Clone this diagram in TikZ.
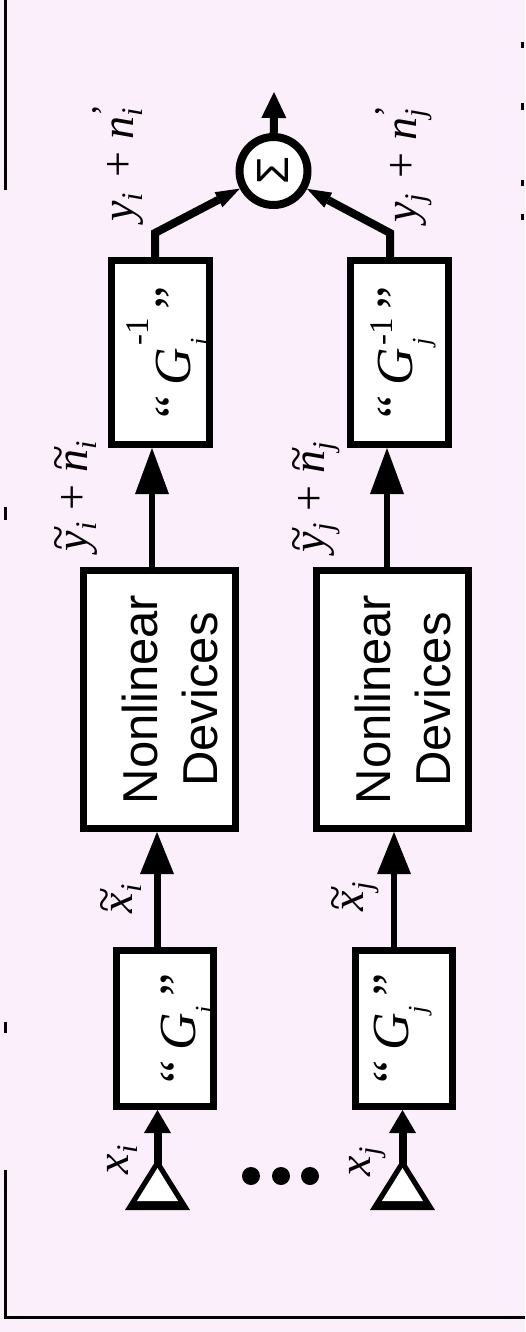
\documentclass[tikz,border=0pt]{standalone}
\usepackage{amsmath}
\usepackage{fontspec}
\setmainfont{Liberation Serif}
\newfontfamily\sansf{Liberation Sans}
\usetikzlibrary{arrows.meta}
\definecolor{bgpink}{RGB}{251,239,251}
\newcommand\lblfont{\fontsize{46}{52}\selectfont}
\newcommand\gfont{\fontsize{52}{60}\selectfont}
% stacked sub/sup for G boxes: #1 sub, #2 sup, #3 lower, #4 raise
\newcommand\stk[4]{%
  \setbox0=\hbox{\fontsize{26}{26}\selectfont\itshape #1}%
  \setbox2=\hbox{\fontsize{33}{33}\selectfont #2}%
  \dimen0=\wd0 \ifdim\wd2>\dimen0 \dimen0=\wd2 \fi
  \rlap{\raisebox{-#3}{\box0}}\hbox to\dimen0{\raisebox{#4}{\box2}\hss}}
% stacked sub/sup for labels
\newcommand\ssl[2]{%
  \setbox0=\hbox{\fontsize{30}{30}\selectfont\itshape #1}%
  \setbox2=\hbox{\fontsize{36}{36}\selectfont\upshape #2}%
  \dimen0=\wd0 \ifdim\wd2>\dimen0 \dimen0=\wd2 \fi
  \rlap{\raisebox{-9pt}{\box0}}\hbox to\dimen0{\raisebox{17pt}{\box2}\hss}}
% italic letter with a wide tilde
\newcommand\tl[1]{\setbox0=\hbox{\itshape #1}%
  \hbox to\wd0{\hss\kern0.12em\raisebox{0.29em}{\upshape\char"7E}\hss}\kern-\wd0\box0}
\newcommand\pl{\kern12pt\upshape+\kern12pt}
\begin{document}
\begin{tikzpicture}[x=1pt,y=-1pt,
  box/.style={draw=black, line width=7pt, fill=white, inner sep=0pt},
  lab/.style={rotate=90, inner sep=0pt, font=\lblfont},
  frame/.style={line width=3pt},
  tipbig/.style={-{Triangle[length=#1, width=34pt, line width=0pt]}},
  tipsmall/.style={-{Triangle[length=#1, width=27pt, line width=0pt]}},
  tipdiag/.style={-{Triangle[length=24pt, width=17pt, line width=0pt]}}]
\fill[bgpink] (0,0) rectangle (525,1332);
\useasboundingbox (0,0) rectangle (525,1332);

% frame remnants
\draw[frame] (5,0) -- (5,190);
\draw[frame] (5,1170) -- (5,1317) -- (525,1317);
\draw[frame] (5,507) -- (5,520);
\draw[frame] (5,1022) -- (5,1033);
\draw[frame] (522,42) -- (522,48);
\draw[frame] (522,103) -- (522,110);
\draw[frame] (522,180) -- (522,186);
\draw[frame] (522,214) -- (522,220);

% boxes
\node[box, minimum width=98pt, minimum height=184pt] (Ginvi) at (160.5,352.5)
  {\rotatebox{90}{\gfont\raisebox{0pt}[64pt][5pt]{“\kern10pt\textit{G}\kern2pt\stk{i}{-1}{18pt}{42pt}\kern8pt”}}};
\node[box, minimum width=98pt, minimum height=184pt] (Ginvj) at (399.5,352.5)
  {\rotatebox{90}{\gfont\raisebox{0pt}[50pt][25pt]{“\kern10pt\textit{G}\kern2pt\stk{j}{-1}{18pt}{20pt}\kern8pt”}}};
\node[box, minimum width=138pt, minimum height=258pt] (NLi) at (159.5,699.5)
  {\rotatebox{90}{\sansf\fontsize{49}{60}\selectfont\raisebox{0pt}[\dimexpr\height+32pt\relax][\depth]{\begin{tabular}{@{}c@{}}Nonlinear\\Devices\end{tabular}}}};
\node[box, minimum width=134pt, minimum height=258pt] (NLj) at (392.5,699.5)
  {\rotatebox{90}{\sansf\fontsize{49}{60}\selectfont\raisebox{0pt}[\dimexpr\height+32pt\relax][\depth]{\begin{tabular}{@{}c@{}}Nonlinear\\Devices\end{tabular}}}};
\node[box, minimum width=97pt, minimum height=156pt] (Gi) at (165,1028.5)
  {\rotatebox{90}{\gfont\raisebox{0pt}[60pt][0pt]{“\kern10pt\textit{G}\stk{i}{}{18pt}{0pt}\kern10pt”}}};
\node[box, minimum width=97pt, minimum height=156pt] (Gj) at (403.5,1028.5)
  {\rotatebox{90}{\gfont\raisebox{0pt}[40pt][31pt]{“\kern10pt\textit{G}\stk{j}{}{18pt}{0pt}\kern10pt”}}};

% summing junction
\node[circle, draw=black, line width=8pt, fill=white, minimum size=68pt, inner sep=0pt] (sum) at (273.5,171)
  {\rotatebox{90}{\sansf\fontsize{45}{45}\selectfont Σ}};
\coordinate (outp) at (274,92);

% connector columns
\coordinate (cA) at (157,0);
\coordinate (cB) at (152,0);
\coordinate (cC) at (155,0);
\coordinate (dB) at (394,0);
\coordinate (dC) at (387,0);
\coordinate (dD) at (390,0);
\coordinate (srcI) at (157.5,1172);
\coordinate (srcJ) at (402.5,1172);

% sources -> G
\draw[line width=8pt, tipsmall=23pt] (srcI) -- (Gi.south -| srcI);
\draw[line width=8pt, tipsmall=23pt] (srcJ) -- (Gj.south -| srcJ);
% source triangles
\fill[black] (125,1210) -- (190,1210) -- (157.5,1158) -- cycle;
\fill[white] (137,1201) -- (178,1201) -- (157.5,1168) -- cycle;
\fill[black] (370,1210) -- (435,1210) -- (402.5,1158) -- cycle;
\fill[white] (382,1201) -- (423,1201) -- (402.5,1168) -- cycle;

% G -> nonlinear
\draw[line width=7pt, tipbig=42pt] (Gi.north -| cA) -- (NLi.south -| cA);
\draw[line width=6pt, tipbig=42pt] (Gj.north -| dB) -- (NLj.south -| dB);
% nonlinear -> G^-1
\draw[line width=6pt, tipbig=46pt] (NLi.north -| cB) -- (Ginvi.south -| cB);
\draw[line width=6pt, tipbig=46pt] (NLj.north -| dC) -- (Ginvj.south -| dC);
% G^-1 -> sum
\draw[line width=8pt, line join=miter, tipdiag] (Ginvi.north -| cC) -- ++(0,-24) -- (sum);
\draw[line width=8pt, line join=miter, tipdiag] (Ginvj.north -| dD) -- ++(0,-24) -- (sum);
% output
\draw[line width=8pt, -{Triangle[length=26pt, width=25pt, line width=0pt]}] (sum) -- (outp);

% dots
\fill (251,1176) circle[radius=9pt];
\fill (281,1176) circle[radius=9pt];
\fill (310,1176) circle[radius=9pt];

% labels
\node[lab] (lyti) at (76,496) {\tl{y}\ssl{i}{}\pl\tl{n}\ssl{i}{}};
\node[lab] (lytj) at (316,497) {\tl{y}\ssl{j}{}\pl\tl{n}\ssl{j}{}};
\node[lab] (lyi) at (118,163) {\itshape y\ssl{i}{}\kern4pt\pl\itshape n\ssl{i}{’}};
\node[lab] (lyj) at (404,164) {\itshape y\ssl{j}{}\kern4pt\pl\itshape n\ssl{j}{’}};
\node[lab] (lxti) at (121,899) {\tl{x}\ssl{i}{}};
\node[lab] (lxtj) at (355,897) {\tl{x}\ssl{j}{}};
\node[lab] (lxi) at (122,1160) {\itshape x\ssl{i}{}};
\node[lab] (lxj) at (368,1162) {\itshape x\ssl{j}{}};
\end{tikzpicture}
\end{document}
